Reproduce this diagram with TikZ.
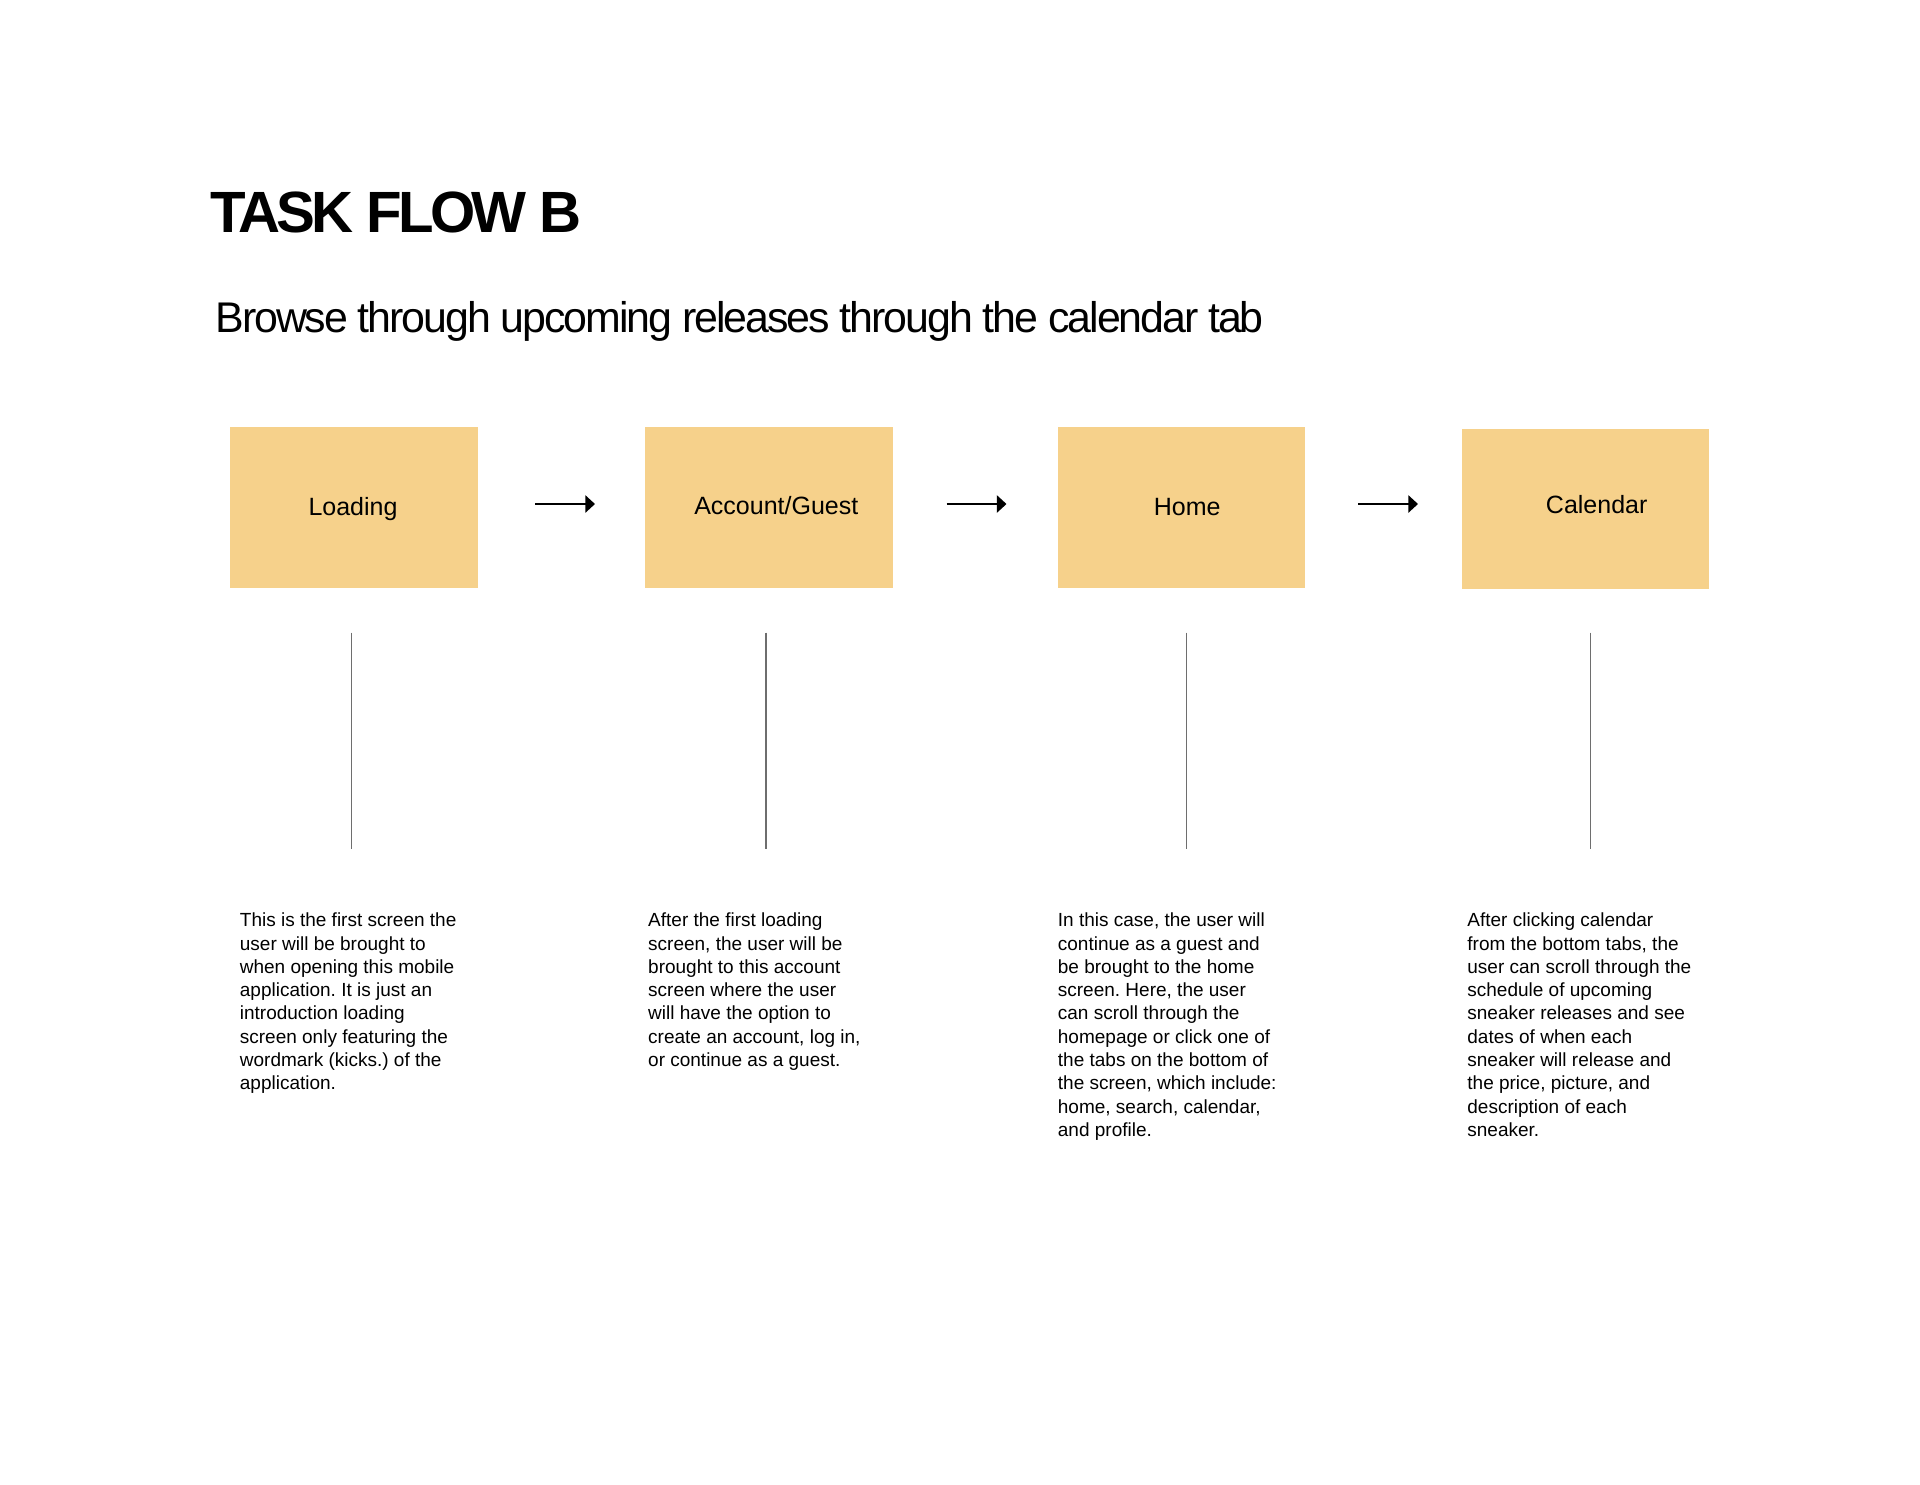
\documentclass[tikz,border=0pt]{standalone}
\usepackage{fontspec}
\setmainfont{Liberation Sans}
\newfontfamily\titlefont{Liberation Sans}[LetterSpace=-6.3]
\newfontfamily\subfont{Liberation Sans}[LetterSpace=-4.8]
\usetikzlibrary{arrows.meta}
\definecolor{boxfill}{RGB}{246,209,139}
\definecolor{linegray}{RGB}{110,110,110}
\tikzset{
  screen/.style={rectangle, fill=boxfill, draw=none, minimum width=123.7pt, minimum height=80.2pt, inner sep=0pt},
  boxlabel/.style={anchor=base, inner sep=0pt, font=\fontsize{12.5}{15}\selectfont},
  desc/.style={anchor=base west, inner sep=0pt, font=\fontsize{9.5}{11.65}\selectfont},
  flowarrow/.style={line width=1.15pt, -{Triangle[length=4.8pt,width=8.5pt]}},
  stem/.style={draw=linegray, line width=0.75pt},
}
\newcommand{\desctext}[1]{\parbox[t]{125pt}{\raggedright #1}}
\frenchspacing
\begin{document}
\begin{tikzpicture}[x=0.5pt,y=-0.5pt]
\useasboundingbox[fill=white] (0,0) rectangle (1920,1484);

\node[anchor=base west, inner sep=0pt, font=\titlefont\bfseries\fontsize{29.1}{35}\selectfont] (title) at (210.5,232.3) {TASK FLOW B};
\node[anchor=base west, inner sep=0pt, font=\subfont\fontsize{21.45}{26}\selectfont] (subtitle) at (215,332.3) {Browse through upcoming releases through the calendar tab};

% screens
\node[screen] (b1) at (353.9,507.6) {};
\node[screen] (b2) at (769.0,507.6) {};
\node[screen] (b3) at (1181.7,507.6) {};
\node[screen] (b4) at (1585.7,508.8) {};

\node[boxlabel] (l1) at (353.0,515.7) {Loading};
\node[boxlabel] (l2) at (776.3,514.5) {Account/Guest};
\node[boxlabel] (l3) at (1187.2,515.7) {Home};
\node[boxlabel] (l4) at (1596.7,513.5) {Calendar};

% arrows
\coordinate (a1s) at (535,504);
\coordinate (a1e) at (595,504);
\coordinate (a2s) at (946.5,504);
\coordinate (a2e) at (1006.5,504);
\coordinate (a3s) at (1358,504);
\coordinate (a3e) at (1418,504);
\draw[flowarrow] (a1s) -- (a1e);
\draw[flowarrow] (a2s) -- (a2e);
\draw[flowarrow] (a3s) -- (a3e);

% stems
\coordinate (s1t) at (351.7,632.7);
\coordinate (s1b) at (351.7,848.6);
\coordinate (s2t) at (765.9,632.7);
\coordinate (s2b) at (765.9,848.6);
\coordinate (s3t) at (1186.5,632.7);
\coordinate (s3b) at (1186.5,848.6);
\coordinate (s4t) at (1590.6,632.7);
\coordinate (s4b) at (1590.6,848.6);
\draw[stem] (s1t) -- (s1b);
\draw[stem] (s2t) -- (s2b);
\draw[stem] (s3t) -- (s3b);
\draw[stem] (s4t) -- (s4b);

% descriptions
\node[desc] (d1) at (239.5,926.7) {\desctext{This is the first screen the\\
user will be brought to\\
when opening this mobile\\
application. It is just an\\
introduction loading\\
screen only featuring the\\
wordmark (kicks.) of the\\
application.}};
\node[desc] (d2) at (647.8,926.7) {\desctext{After the first loading\\
screen, the user will be\\
brought to this account\\
screen where the user\\
will have the option to\\
create an account, log in,\\
or continue as a guest.}};
\node[desc] (d3) at (1057.5,926.7) {\desctext{In this case, the user will\\
continue as a guest and\\
be brought to the home\\
screen. Here, the user\\
can scroll through the\\
homepage or click one of\\
the tabs on the bottom of\\
the screen, which include:\\
home, search, calendar,\\
and profile.}};
\node[desc] (d4) at (1467,926.7) {\desctext{After clicking calendar\\
from the bottom tabs, the\\
user can scroll through the\\
schedule of upcoming\\
sneaker releases and see\\
dates of when each\\
sneaker will release and\\
the price, picture, and\\
description of each\\
sneaker.}};
\end{tikzpicture}
\end{document}
